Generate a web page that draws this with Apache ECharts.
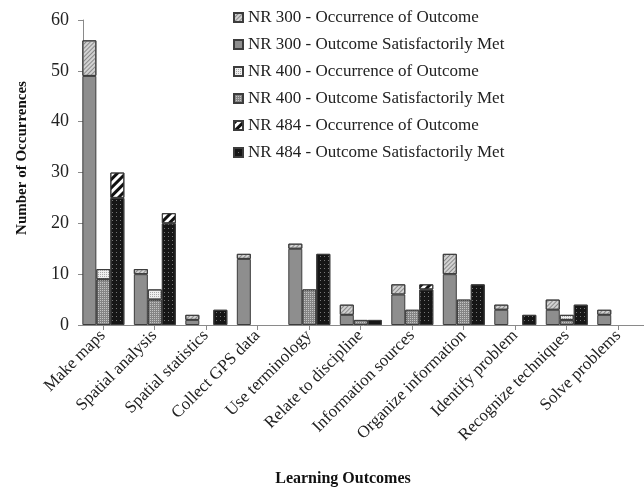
<!DOCTYPE html>
<html>
<head>
<meta charset="utf-8">
<script src="https://cdn.jsdelivr.net/npm/echarts@6/dist/echarts.min.js"></script>
<style>
  html, body { margin: 0; padding: 0; background: #fff; }
  #chart { width: 644px; height: 500px; }
</style>
</head>
<body>
<div id="chart"></div>
<script>
// learning outcomes and counts
const categories = ['Make maps', 'Spatial analysis', 'Spatial statistics', 'Collect GPS data', 'Use terminology',
  'Relate to discipline', 'Information sources', 'Organize information', 'Identify problem',
  'Recognize techniques', 'Solve problems']
// total occurrences (top of each column) and satisfactorily met (lower part)
const nr300Occurrence = [56, 11, 2, 14, 16, 4, 8, 14, 4, 5, 3]
const nr300Met = [49, 10, 1, 13, 15, 2, 6, 10, 3, 3, 2]
const nr400Occurrence = [11, 7, 0, 0, 7, 1, 3, 5, 0, 2, 0]
const nr400Met = [9, 5, 0, 0, 7, 1, 3, 5, 0, 1, 0]
const nr484Occurrence = [30, 22, 3, 0, 14, 1, 8, 8, 2, 4, 0]
const nr484Met = [25, 20, 3, 0, 14, 1, 7, 8, 2, 4, 0]
const yTicks = { min: 0, max: 60, interval: 10 }

const font = 'Liberation Serif'
const border = '#3c3c3c'

// upper segment = occurrences not met
function rest(total, met) {
  return total.map((v, i) => (v - met[i]) || null)
}
function nz(arr) {
  return arr.map(v => v || null)
}

const styles = {
  occ300: { color: '#d2d2d2', decal: { symbol: 'rect', symbolSize: 1, color: '#8a8a8a', dashArrayX: [1, 0], dashArrayY: [1, 2], rotation: -Math.PI / 4 } },
  met300: { color: '#8e8e8e' },
  occ400: { color: '#eeeeee', decal: { symbol: 'rect', symbolSize: 1, color: '#a8a8a8', dashArrayX: [1, 1], dashArrayY: [1, 1] } },
  met400: { color: '#858585', decal: { symbol: 'rect', symbolSize: 1, color: '#c4c4c4', dashArrayX: [1, 1], dashArrayY: [1, 1] } },
  occ484: { color: '#ffffff', decal: { symbol: 'rect', symbolSize: 1, color: '#111111', dashArrayX: [1, 0], dashArrayY: [3, 3], rotation: -Math.PI / 4 } },
  met484: { color: '#161616', decal: { symbol: 'rect', symbolSize: 1, color: '#777777', dashArrayX: [1, 3], dashArrayY: [1, 3] } }
}

function bar(name, stack, data, st) {
  const itemStyle = { color: st.color, borderColor: border, borderWidth: 1 }
  if (st.decal) itemStyle.decal = st.decal
  return {
    name: name,
    type: 'bar',
    stack: stack,
    xAxisIndex: 0,
    yAxisIndex: 0,
    barWidth: 14,
    barGap: '0%',
    data: data,
    itemStyle: itemStyle
  }
}

const names = [
  'NR 300 - Occurrence of Outcome', 'NR 300 - Outcome Satisfactorily Met',
  'NR 400 - Occurrence of Outcome', 'NR 400 - Outcome Satisfactorily Met',
  'NR 484 - Occurrence of Outcome', 'NR 484 - Outcome Satisfactorily Met'
]

const myChart = echarts.init(document.getElementById('chart'))
const option = {
  animation: false,
  textStyle: { fontFamily: font },
  legend: {
    data: names,
    orient: 'vertical',
    left: 233,
    top: 9,
    padding: 0,
    icon: 'rect',
    itemWidth: 9,
    itemHeight: 9,
    itemGap: 10,
    textStyle: { fontFamily: font, fontSize: 17, color: '#222', lineHeight: 17 }
  },
  grid: [
    // bars: 11 groups of 54px, first bar starting at x=84
    { left: 77.6, top: 20, width: 596.2, height: 305 },
    // category labels / ticks
    { left: 77, top: 20, width: 572, height: 305 },
    // axis frame
    { left: 83, top: 20, width: 620, height: 305 }
  ],
  xAxis: [
    { gridIndex: 0, type: 'category', data: categories, show: false },
    {
      gridIndex: 1, type: 'category', data: categories,
      axisLine: { show: false },
      axisTick: { show: true, alignWithLabel: true, length: 5, lineStyle: { color: '#8a8a8a' } },
      axisLabel: { interval: 0, rotate: 45, margin: 8, fontFamily: font, fontSize: 17, color: '#222' }
    },
    {
      gridIndex: 2, type: 'value', min: 0, max: 1,
      axisLine: { show: true, lineStyle: { color: '#8a8a8a' } },
      axisTick: { show: false }, axisLabel: { show: false }, splitLine: { show: false }
    }
  ],
  yAxis: [
    { gridIndex: 0, type: 'value', min: yTicks.min, max: yTicks.max, interval: yTicks.interval, show: false },
    { gridIndex: 1, type: 'value', min: yTicks.min, max: yTicks.max, interval: yTicks.interval, show: false },
    {
      gridIndex: 2, type: 'value', min: yTicks.min, max: yTicks.max, interval: yTicks.interval,
      axisLine: { show: true, lineStyle: { color: '#8a8a8a' } },
      axisTick: { show: true, length: 5, lineStyle: { color: '#8a8a8a' } },
      axisLabel: { margin: 14, fontFamily: font, fontSize: 18, color: '#222' },
      splitLine: { show: false }
    }
  ],
  graphic: [
    {
      type: 'text', x: 22, y: 158, rotation: Math.PI / 2,
      style: { text: 'Number of Occurrences', fontFamily: font, fontSize: 15, fontWeight: 'bold', fill: '#111', textAlign: 'center', textVerticalAlign: 'middle' }
    },
    {
      type: 'text', x: 343, y: 479,
      style: { text: 'Learning Outcomes', fontFamily: font, fontSize: 16, fontWeight: 'bold', fill: '#111', textAlign: 'center', textVerticalAlign: 'middle' }
    }
  ],
  series: [
    bar(names[1], 'nr300', nz(nr300Met), styles.met300),
    bar(names[0], 'nr300', rest(nr300Occurrence, nr300Met), styles.occ300),
    bar(names[3], 'nr400', nz(nr400Met), styles.met400),
    bar(names[2], 'nr400', rest(nr400Occurrence, nr400Met), styles.occ400),
    bar(names[5], 'nr484', nz(nr484Met), styles.met484),
    bar(names[4], 'nr484', rest(nr484Occurrence, nr484Met), styles.occ484)
  ]
}
myChart.setOption(option)
</script>
</body>
</html>
